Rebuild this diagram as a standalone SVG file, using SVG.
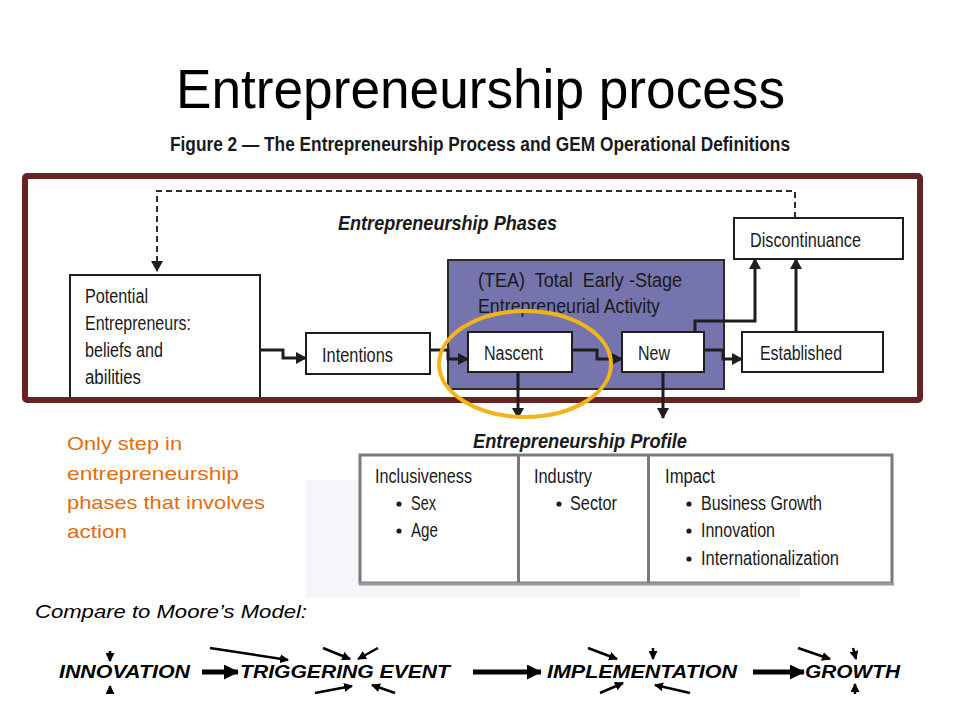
<svg xmlns="http://www.w3.org/2000/svg" width="960" height="720" viewBox="0 0 960 720">
<style>
.cond{font-family:"Liberation Sans Narrow","Liberation Sans",Arial,sans-serif;fill:#1a1a1a;font-size:20px}
.box{fill:#fff;stroke:#1e1e1e;stroke-width:2}
.conn{fill:none;stroke:#1e1e1e;stroke-width:3}
.moore{font-family:"Liberation Sans",Arial,sans-serif;font-weight:bold;font-style:italic;font-size:18px;fill:#000}
.marr{fill:none;stroke:#000;stroke-width:5}
.sarr{fill:none;stroke:#000;stroke-width:2.5}
.orange{font-family:"Liberation Sans",Arial,sans-serif;font-size:19px;fill:#e46c0a}
</style>
<defs>
<marker id="ah" markerUnits="userSpaceOnUse" markerWidth="11" markerHeight="12" refX="10" refY="6" orient="auto">
<path d="M0,0 L11,6 L0,12 z" fill="#1e1e1e"/>
</marker>
<marker id="bh" markerUnits="userSpaceOnUse" markerWidth="15" markerHeight="15" refX="14" refY="7.5" orient="auto">
<path d="M0,0 L15,7.5 L0,15 z" fill="#000"/>
</marker>
<marker id="sh" markerUnits="userSpaceOnUse" markerWidth="9" markerHeight="9" refX="8" refY="4.5" orient="auto">
<path d="M0,0 L9,4.5 L0,9 z" fill="#000"/>
</marker>
</defs>
<rect width="960" height="720" fill="#fff"/>
<!-- faint background watermark -->
<rect x="306" y="480" width="494" height="118" fill="#f5f6fa"/>

<!-- Titles -->
<text x="176" y="108" font-family="Liberation Sans,Arial,sans-serif" font-size="56" fill="#000" textLength="609" lengthAdjust="spacingAndGlyphs">Entrepreneurship process</text>
<text x="170" y="151" class="cond" font-size="16" font-weight="bold" textLength="620" lengthAdjust="spacingAndGlyphs">Figure 2 — The Entrepreneurship Process and GEM Operational Definitions</text>

<!-- TEA group box -->
<g id="tea">
<rect x="448" y="260" width="276" height="129" fill="#7674ac" stroke="#2a2a2a" stroke-width="2"/>
<text x="478" y="287" class="cond" xml:space="preserve" textLength="204" lengthAdjust="spacingAndGlyphs">(TEA)  Total  Early -Stage</text>
<text x="478" y="313" class="cond" textLength="182" lengthAdjust="spacingAndGlyphs">Entrepreneurial Activity</text>
</g>

<text x="338" y="230" class="cond" font-weight="bold" font-style="italic" font-size="21" textLength="219" lengthAdjust="spacingAndGlyphs">Entrepreneurship Phases</text>

<g id="potential">
<rect x="70" y="275" width="190" height="125" class="box"/>
<text x="85" y="303" class="cond" textLength="63" lengthAdjust="spacingAndGlyphs">Potential</text>
<text x="85" y="330" class="cond" textLength="106" lengthAdjust="spacingAndGlyphs">Entrepreneurs:</text>
<text x="85" y="357" class="cond" textLength="78" lengthAdjust="spacingAndGlyphs">beliefs and</text>
<text x="85" y="384" class="cond" textLength="56" lengthAdjust="spacingAndGlyphs">abilities</text>
</g>
<g id="intentions">
<rect x="306" y="333" width="124" height="41" class="box"/>
<text x="322" y="362" class="cond" textLength="71" lengthAdjust="spacingAndGlyphs">Intentions</text>
</g>
<g id="nascent">
<rect x="468" y="332" width="104" height="40" class="box"/>
<text x="484" y="360" class="cond" textLength="59" lengthAdjust="spacingAndGlyphs">Nascent</text>
</g>
<g id="new">
<rect x="622" y="332" width="82" height="40" class="box"/>
<text x="638" y="360" class="cond" textLength="32" lengthAdjust="spacingAndGlyphs">New</text>
</g>
<g id="established">
<rect x="742" y="332" width="141" height="40" class="box"/>
<text x="760" y="360" class="cond" textLength="82" lengthAdjust="spacingAndGlyphs">Established</text>
</g>
<g id="discontinuance">
<rect x="734" y="218" width="169" height="41" class="box"/>
<text x="750" y="247" class="cond" textLength="111" lengthAdjust="spacingAndGlyphs">Discontinuance</text>
</g>

<!-- Frame -->
<rect x="25" y="176" width="895" height="224" fill="none" stroke="#642424" stroke-width="6" rx="2"/>

<!-- Connectors -->
<g id="connectors">
<path d="M795,218 V191 H157 V271" fill="none" stroke="#2a2a2a" stroke-width="2" stroke-dasharray="6,4" marker-end="url(#ah)"/>
<path d="M260,350 H283 V358 H306" class="conn" marker-end="url(#ah)"/>
<path d="M430,350 H448 V359 H468" class="conn" marker-end="url(#ah)"/>
<path d="M572,350 H597 V359 H622" class="conn" marker-end="url(#ah)"/>
<path d="M704,350 H723 V359 H742" class="conn" marker-end="url(#ah)"/>
<path d="M695,332 V321 H755 V259" class="conn" marker-end="url(#ah)"/>
<path d="M796,332 V259" class="conn" marker-end="url(#ah)"/>
<path d="M518,372 V418" class="conn" marker-end="url(#ah)"/>
<path d="M663,372 V418" class="conn" marker-end="url(#ah)"/>
</g>

<!-- Highlight ellipse -->
<ellipse cx="525" cy="364" rx="86" ry="53" fill="none" stroke="#f3b41b" stroke-width="4"/>

<!-- Profile -->
<text x="473" y="448" class="cond" font-weight="bold" font-style="italic" font-size="21" textLength="214" lengthAdjust="spacingAndGlyphs">Entrepreneurship Profile</text>
<g id="profile">
<rect x="360" y="455" width="532" height="128" fill="#fff" stroke="#7a7a7a" stroke-width="3"/>
<line x1="359" y1="584" x2="894" y2="584" stroke="#9a9a9a" stroke-width="3"/>
<line x1="518.5" y1="455" x2="518.5" y2="583" stroke="#7a7a7a" stroke-width="3"/>
<line x1="648.5" y1="455" x2="648.5" y2="583" stroke="#7a7a7a" stroke-width="3"/>
<text x="375" y="483" class="cond" textLength="97" lengthAdjust="spacingAndGlyphs">Inclusiveness</text>
<circle cx="399" cy="504" r="2.6" fill="#1e1e1e"/>
<text x="411" y="510" class="cond" textLength="25" lengthAdjust="spacingAndGlyphs">Sex</text>
<circle cx="399" cy="531" r="2.6" fill="#1e1e1e"/>
<text x="411" y="537" class="cond" textLength="27" lengthAdjust="spacingAndGlyphs">Age</text>
<text x="534" y="483" class="cond" textLength="58" lengthAdjust="spacingAndGlyphs">Industry</text>
<circle cx="559" cy="504" r="2.6" fill="#1e1e1e"/>
<text x="570" y="510" class="cond" textLength="47" lengthAdjust="spacingAndGlyphs">Sector</text>
<text x="665" y="483" class="cond" textLength="50" lengthAdjust="spacingAndGlyphs">Impact</text>
<circle cx="689" cy="504" r="2.6" fill="#1e1e1e"/>
<text x="701" y="510" class="cond" textLength="121" lengthAdjust="spacingAndGlyphs">Business Growth</text>
<circle cx="689" cy="531" r="2.6" fill="#1e1e1e"/>
<text x="701" y="537" class="cond" textLength="74" lengthAdjust="spacingAndGlyphs">Innovation</text>
<circle cx="689" cy="559" r="2.6" fill="#1e1e1e"/>
<text x="701" y="565" class="cond" textLength="138" lengthAdjust="spacingAndGlyphs">Internationalization</text>
</g>

<!-- Orange note -->
<g id="note">
<text x="67" y="450" class="orange" textLength="115" lengthAdjust="spacingAndGlyphs">Only step in</text>
<text x="67" y="480" class="orange" textLength="172" lengthAdjust="spacingAndGlyphs">entrepreneurship</text>
<text x="67" y="509" class="orange" textLength="198" lengthAdjust="spacingAndGlyphs">phases that involves</text>
<text x="67" y="538" class="orange" textLength="60" lengthAdjust="spacingAndGlyphs">action</text>
</g>

<text x="35" y="618" font-family="Liberation Sans,Arial,sans-serif" font-style="italic" font-size="19" fill="#000" textLength="272" lengthAdjust="spacingAndGlyphs">Compare to Moore’s Model:</text>

<!-- Moore's model -->
<g id="moore">
<text x="59" y="678" class="moore" textLength="131" lengthAdjust="spacingAndGlyphs">INNOVATION</text>
<text x="240" y="678" class="moore" textLength="210" lengthAdjust="spacingAndGlyphs">TRIGGERING EVENT</text>
<text x="547" y="678" class="moore" textLength="190" lengthAdjust="spacingAndGlyphs">IMPLEMENTATION</text>
<text x="805" y="678" class="moore" textLength="95" lengthAdjust="spacingAndGlyphs">GROWTH</text>
</g>
<g id="moore-connectors">
<path d="M202,672 H238" class="marr" marker-end="url(#bh)"/>
<path d="M473,672 H541" class="marr" marker-end="url(#bh)"/>
<path d="M753,672 H804" class="marr" marker-end="url(#bh)"/>
<path d="M110,651 V661" class="sarr" marker-end="url(#sh)"/>
<path d="M110,694 V686" class="sarr" marker-end="url(#sh)"/>
<path d="M210,648 L288,660" class="sarr" marker-end="url(#sh)"/>
<path d="M323,648 L350,659" class="sarr" marker-end="url(#sh)"/>
<path d="M378,648 L358,659" class="sarr" marker-end="url(#sh)"/>
<path d="M315,693 L352,686" class="sarr" marker-end="url(#sh)"/>
<path d="M395,693 L372,685" class="sarr" marker-end="url(#sh)"/>
<path d="M588,648 L617,659" class="sarr" marker-end="url(#sh)"/>
<path d="M653,648 V659" class="sarr" marker-end="url(#sh)"/>
<path d="M600,693 L623,683" class="sarr" marker-end="url(#sh)"/>
<path d="M690,693 L655,685" class="sarr" marker-end="url(#sh)"/>
<path d="M798,648 L830,659" class="sarr" marker-end="url(#sh)"/>
<path d="M853,648 L856,659" class="sarr" marker-end="url(#sh)"/>
<path d="M855,694 V684" class="sarr" marker-end="url(#sh)"/>
</g>
</svg>
